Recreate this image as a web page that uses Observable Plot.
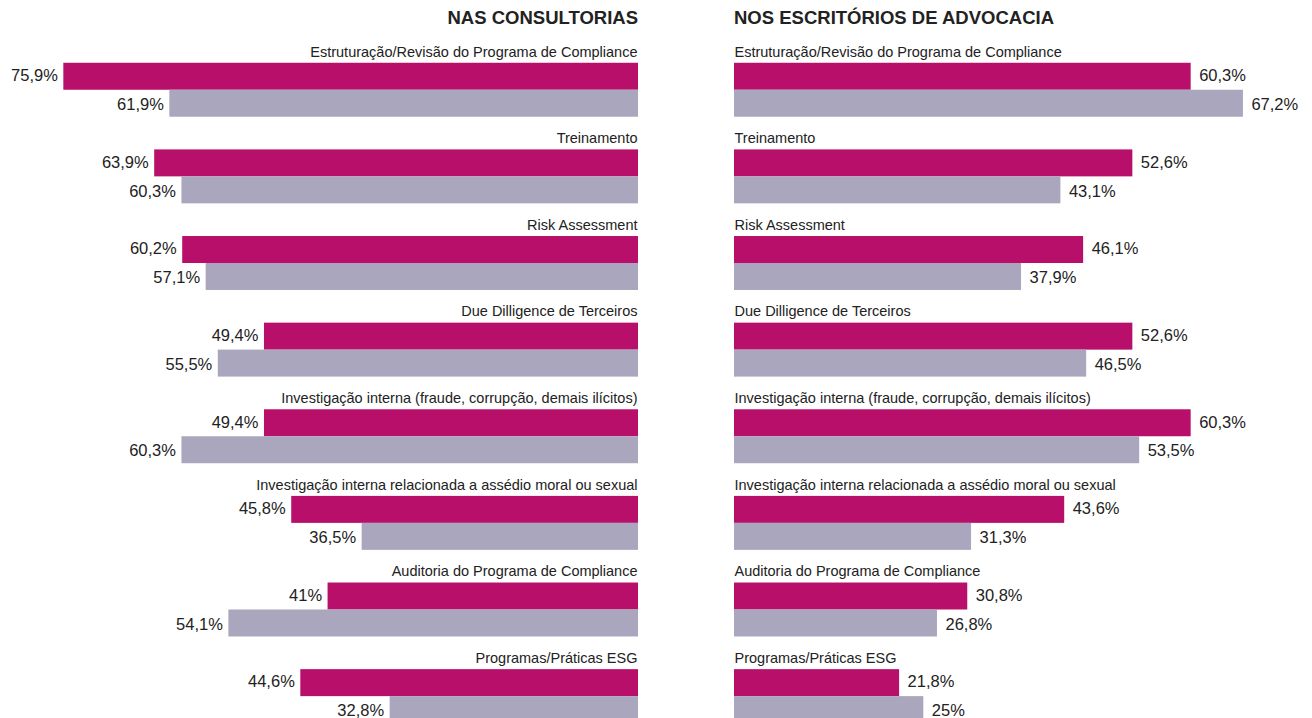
<!DOCTYPE html>
<html>
<head>
<meta charset="utf-8">
<script src="https://cdn.jsdelivr.net/npm/d3@7"></script>
<script src="https://cdn.jsdelivr.net/npm/@observablehq/plot@0.6"></script>
<style>
  html, body { margin: 0; padding: 0; background: #fff; overflow: hidden; }
  body { width: 1312px; height: 718px; font-family: "Liberation Sans", Arial, sans-serif; }
  #wrap { display: flex; }
  .panel { width: 656px; }
  .title { height: 32px; box-sizing: border-box; padding-top: 8px; font-size: 18.5px; line-height: 20px; font-weight: bold; color: #222; }
  .left .title { text-align: right; padding-right: 18px; }
  .right .title { text-align: left; padding-left: 78px; }
  svg { display: block; }
</style>
</head>
<body>
<div id="wrap">
  <div class="panel left"><div class="title">NAS CONSULTORIAS</div><div id="p1"></div></div>
  <div class="panel right"><div class="title">NOS ESCRITÓRIOS DE ADVOCACIA</div><div id="p2"></div></div>
</div>
<script>
const categories = [
  "Estruturação/Revisão do Programa de Compliance",
  "Treinamento",
  "Risk Assessment",
  "Due Dilligence de Terceiros",
  "Investigação interna (fraude, corrupção, demais ilícitos)",
  "Investigação interna relacionada a assédio moral ou sexual",
  "Auditoria do Programa de Compliance",
  "Programas/Práticas ESG"
];
const consultoriasMagenta = [75.9, 63.9, 60.2, 49.4, 49.4, 45.8, 41, 44.6];
const consultoriasGrey    = [61.9, 60.3, 57.1, 55.5, 60.3, 36.5, 54.1, 32.8];
const escritoriosMagenta  = [60.3, 52.6, 46.1, 52.6, 60.3, 43.6, 30.8, 21.8];
const escritoriosGrey     = [67.2, 43.1, 37.9, 46.5, 53.5, 31.3, 26.8, 25];

const MAGENTA = "#b80f6a";
const GREY = "#aaa6bd";
const FONT = "'Liberation Sans', Arial, sans-serif";

const yDomain = categories.flatMap(c => [c + "|label", c + "|A", c + "|B"]);
const fmt = v => (Number.isInteger(v) ? String(v) : v.toFixed(1).replace(".", ",")) + "%";

function panel(magenta, grey, side) {
  const left = side === "left";
  const dataA = categories.map((c, i) => ({key: c + "|A", value: magenta[i]}));
  const dataB = categories.map((c, i) => ({key: c + "|B", value: grey[i]}));
  const labels = categories.map(c => ({key: c + "|label", name: c}));
  const slotInset = 1.9;
  return Plot.plot({
    width: 656,
    height: 693,
    marginTop: 0,
    marginBottom: 0,
    marginLeft: left ? 2 : 78,
    marginRight: left ? 18 : 10,
    style: {fontFamily: FONT, background: "transparent"},
    x: {domain: left ? [0, 84] : [0, 75], reverse: left, axis: null},
    y: {domain: yDomain, type: "band", padding: 0, round: false, axis: null},
    marks: [
      Plot.barX(dataA, {x: "value", y: "key", fill: MAGENTA, insetTop: slotInset, insetBottom: 0}),
      Plot.barX(dataB, {x: "value", y: "key", fill: GREY, insetTop: 0, insetBottom: slotInset}),
      Plot.text(dataA, {x: "value", y: "key", text: d => fmt(d.value), textAnchor: left ? "end" : "start",
        dx: left ? -6 : 8, dy: 0, fontSize: 16.5, fill: "#222"}),
      Plot.text(dataB, {x: "value", y: "key", text: d => fmt(d.value), textAnchor: left ? "end" : "start",
        dx: left ? -6 : 8, dy: 0, fontSize: 16.5, fill: "#222"}),
      Plot.text(labels, {x: () => 0, y: "key", text: "name", textAnchor: left ? "end" : "start",
        dx: left ? -1 : 0, dy: 5, fontSize: 14.5, fill: "#222"})
    ]
  });
}

document.getElementById("p1").appendChild(panel(consultoriasMagenta, consultoriasGrey, "left"));
document.getElementById("p2").appendChild(panel(escritoriosMagenta, escritoriosGrey, "right"));
</script>
</body>
</html>
